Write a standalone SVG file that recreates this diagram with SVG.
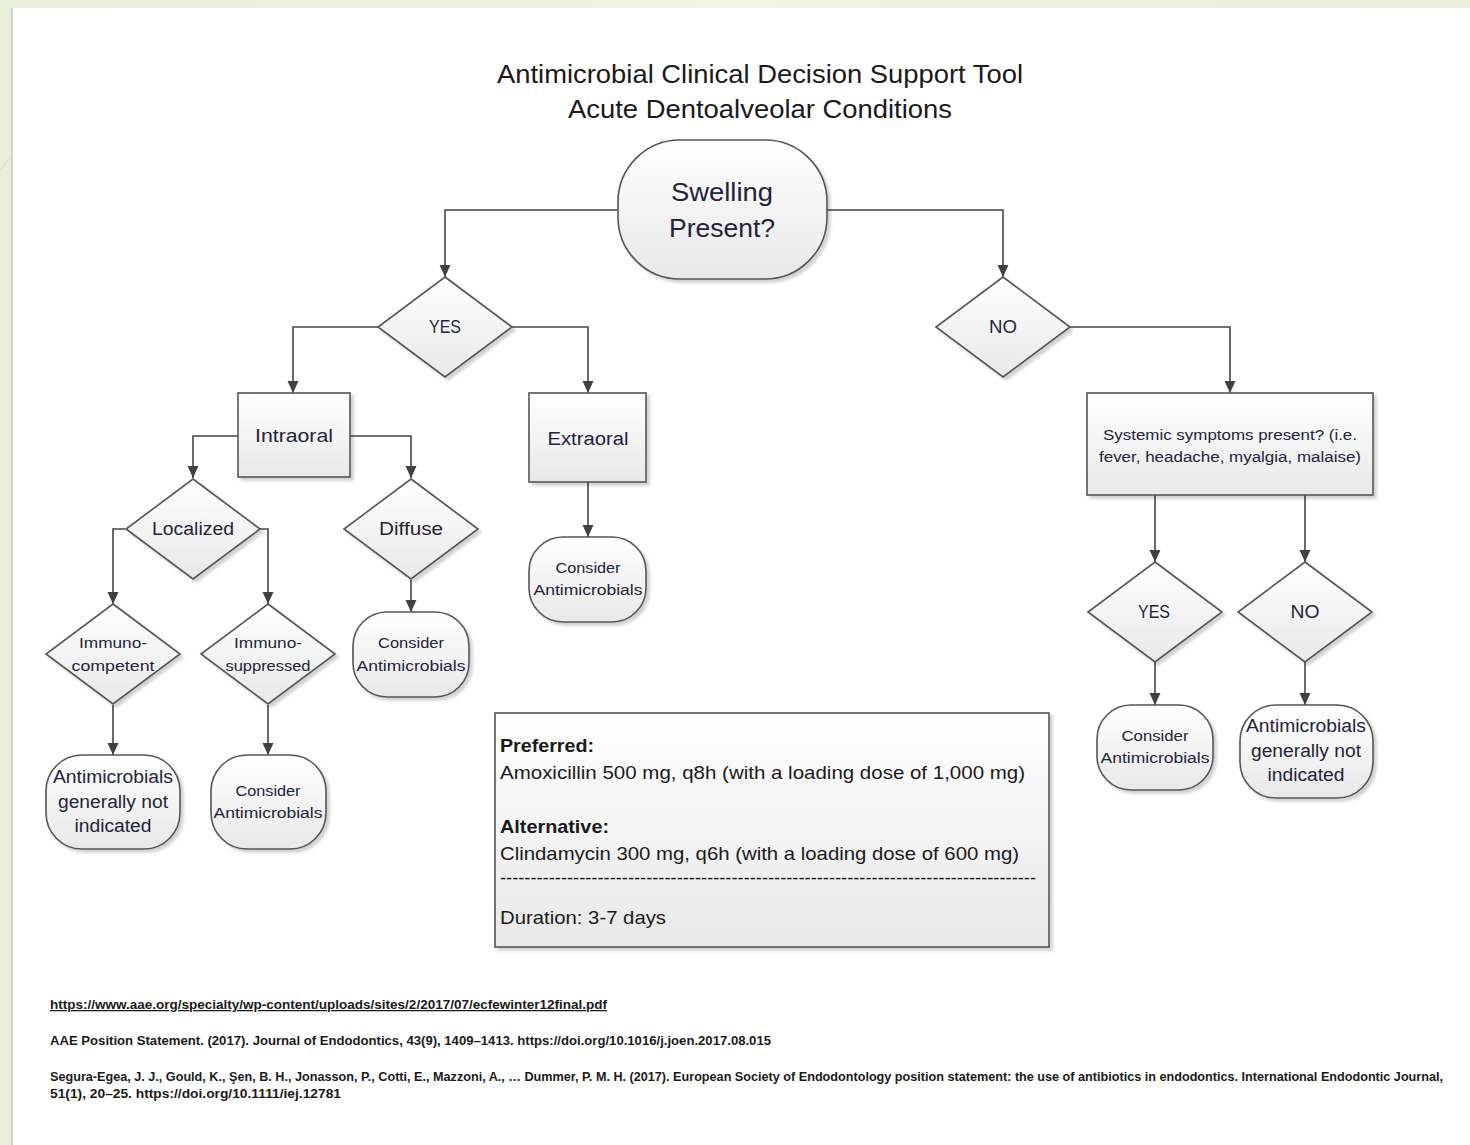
<svg xmlns="http://www.w3.org/2000/svg" width="1470" height="1145" viewBox="0 0 1470 1145">
<defs>
<linearGradient id="bgG" x1="0" y1="0" x2="1" y2="0">
<stop offset="0" stop-color="#e9eedb"/><stop offset="0.5" stop-color="#f1f4e6"/><stop offset="1" stop-color="#e9eedb"/>
</linearGradient>
<linearGradient id="fillG" x1="0" y1="0" x2="0" y2="1">
<stop offset="0" stop-color="#ffffff"/><stop offset="1" stop-color="#e8e8e8"/>
</linearGradient>
<filter id="sh" x="-10%" y="-10%" width="130%" height="130%">
<feDropShadow dx="3" dy="3" stdDeviation="1.5" flood-color="#000" flood-opacity="0.18"/>
</filter>
<marker id="arr" viewBox="0 0 12 12" refX="12" refY="6" markerWidth="12" markerHeight="12" markerUnits="userSpaceOnUse" orient="auto">
<path d="M0,0.5 L12,6 L0,11.5 z" fill="#404040"/>
</marker>
</defs>
<style>
.shape{fill:url(#fillG);stroke:#555;stroke-width:1.6;filter:url(#sh)}
.conn{fill:none;stroke:#454545;stroke-width:1.6;marker-end:url(#arr)}
text{font-family:"Liberation Sans",Arial,sans-serif;fill:#23233a}
.c{text-anchor:middle}
.ttl{font-size:26px;fill:#1a1a1a}
.big{font-size:26px}
.m{font-size:18px}
.s{font-size:15.5px}
.box{font-size:19px;fill:#1a1a1a}
.ref{font-size:12.5px;font-weight:bold;fill:#1a1a1a}
</style>
<!-- background -->
<rect x="0" y="0" width="1470" height="1145" fill="url(#bgG)"/>
<rect x="12" y="8" width="1458" height="1137" fill="#ffffff"/>
<line x1="12" y1="8" x2="12" y2="1145" stroke="#c9c9c9" stroke-width="1.5"/>
<line x1="0" y1="170" x2="11" y2="157" stroke="#d8dccb" stroke-width="1"/>

<g id="title">
<text class="ttl c" x="760" y="83" textLength="526" lengthAdjust="spacingAndGlyphs">Antimicrobial Clinical Decision Support Tool</text>
<text class="ttl c" x="760" y="118" textLength="384" lengthAdjust="spacingAndGlyphs">Acute Dentoalveolar Conditions</text>
</g>

<g id="connectors">
<path class="conn" d="M618,210 H445 V277"/>
<path class="conn" d="M827,210 H1003 V277"/>
<path class="conn" d="M378,327 H293 V393"/>
<path class="conn" d="M512,327 H588 V393"/>
<path class="conn" d="M238,436 H193 V478"/>
<path class="conn" d="M350,436 H411 V478"/>
<path class="conn" d="M125,529 H113 V604"/>
<path class="conn" d="M260,529 H268 V604"/>
<path class="conn" d="M113,705 V755"/>
<path class="conn" d="M268,705 V755"/>
<path class="conn" d="M411,580 V612"/>
<path class="conn" d="M588,482 V537"/>
<path class="conn" d="M1070,327 H1230 V393"/>
<path class="conn" d="M1155,495 V562"/>
<path class="conn" d="M1305,495 V562"/>
<path class="conn" d="M1155,662 V705"/>
<path class="conn" d="M1305,662 V705"/>
</g>

<g id="swelling">
<rect class="shape" x="618" y="140" width="209" height="139" rx="62" ry="62"/>
<text class="big c" x="722" y="201" textLength="102" lengthAdjust="spacingAndGlyphs">Swelling</text>
<text class="big c" x="722" y="237" textLength="106" lengthAdjust="spacingAndGlyphs">Present?</text>
</g>

<g id="yes1">
<path class="shape" d="M445,277 L512,327 L445,377 L378,327 Z"/>
<text class="m c" x="445" y="333" textLength="32" lengthAdjust="spacingAndGlyphs">YES</text>
</g>
<g id="no1">
<path class="shape" d="M1003,277 L1070,327 L1003,377 L936,327 Z"/>
<text class="m c" x="1003" y="333" textLength="28" lengthAdjust="spacingAndGlyphs">NO</text>
</g>

<g id="intraoral">
<rect class="shape" x="238" y="393" width="112" height="84"/>
<text class="m c" x="294" y="442" textLength="78" lengthAdjust="spacingAndGlyphs">Intraoral</text>
</g>
<g id="extraoral">
<rect class="shape" x="529" y="393" width="117" height="89"/>
<text class="m c" x="588" y="445" textLength="81" lengthAdjust="spacingAndGlyphs">Extraoral</text>
</g>

<g id="localized">
<path class="shape" d="M193,479 L260,529 L193,579 L126,529 Z"/>
<text class="m c" x="193" y="535" textLength="82" lengthAdjust="spacingAndGlyphs">Localized</text>
</g>
<g id="diffuse">
<path class="shape" d="M411,479 L478,529 L411,579 L344,529 Z"/>
<text class="m c" x="411" y="535" textLength="64" lengthAdjust="spacingAndGlyphs">Diffuse</text>
</g>

<g id="immunocompetent">
<path class="shape" d="M113,604 L180,654 L113,704 L46,654 Z"/>
<text class="s c" x="113" y="648" textLength="68" lengthAdjust="spacingAndGlyphs">Immuno-</text>
<text class="s c" x="113" y="671" textLength="83" lengthAdjust="spacingAndGlyphs">competent</text>
</g>
<g id="immunosuppressed">
<path class="shape" d="M268,604 L335,654 L268,704 L201,654 Z"/>
<text class="s c" x="268" y="648" textLength="68" lengthAdjust="spacingAndGlyphs">Immuno-</text>
<text class="s c" x="268" y="671" textLength="85" lengthAdjust="spacingAndGlyphs">suppressed</text>
</g>

<g id="notindicated1">
<rect class="shape" x="46" y="755" width="134" height="94" rx="36" ry="36"/>
<text class="m c" x="113" y="783" textLength="120" lengthAdjust="spacingAndGlyphs">Antimicrobials</text>
<text class="m c" x="113" y="808" textLength="110" lengthAdjust="spacingAndGlyphs">generally not</text>
<text class="m c" x="113" y="832" textLength="77" lengthAdjust="spacingAndGlyphs">indicated</text>
</g>
<g id="consider1">
<rect class="shape" x="211" y="755" width="115" height="94" rx="36" ry="36"/>
<text class="s c" x="268" y="796" textLength="65" lengthAdjust="spacingAndGlyphs">Consider</text>
<text class="s c" x="268" y="818" textLength="109" lengthAdjust="spacingAndGlyphs">Antimicrobials</text>
</g>
<g id="consider2">
<rect class="shape" x="353" y="612" width="116" height="85" rx="34" ry="34"/>
<text class="s c" x="411" y="648" textLength="66" lengthAdjust="spacingAndGlyphs">Consider</text>
<text class="s c" x="411" y="671" textLength="109" lengthAdjust="spacingAndGlyphs">Antimicrobials</text>
</g>
<g id="consider3">
<rect class="shape" x="529" y="537" width="117" height="85" rx="34" ry="34"/>
<text class="s c" x="588" y="573" textLength="65" lengthAdjust="spacingAndGlyphs">Consider</text>
<text class="s c" x="588" y="595" textLength="109" lengthAdjust="spacingAndGlyphs">Antimicrobials</text>
</g>

<g id="systemic">
<rect class="shape" x="1087" y="393" width="286" height="102"/>
<text class="s c" x="1230" y="440" textLength="254" lengthAdjust="spacingAndGlyphs">Systemic symptoms present? (i.e.</text>
<text class="s c" x="1230" y="462" textLength="262" lengthAdjust="spacingAndGlyphs">fever, headache, myalgia, malaise)</text>
</g>
<g id="yes2">
<path class="shape" d="M1155,562 L1222,612 L1155,662 L1088,612 Z"/>
<text class="m c" x="1154" y="618" textLength="32" lengthAdjust="spacingAndGlyphs">YES</text>
</g>
<g id="no2">
<path class="shape" d="M1305,562 L1372,612 L1305,662 L1238,612 Z"/>
<text class="m c" x="1305" y="618" textLength="29" lengthAdjust="spacingAndGlyphs">NO</text>
</g>
<g id="consider4">
<rect class="shape" x="1097" y="705" width="116" height="85" rx="34" ry="34"/>
<text class="s c" x="1155" y="741" textLength="67" lengthAdjust="spacingAndGlyphs">Consider</text>
<text class="s c" x="1155" y="763" textLength="109" lengthAdjust="spacingAndGlyphs">Antimicrobials</text>
</g>
<g id="notindicated2">
<rect class="shape" x="1240" y="705" width="133" height="93" rx="36" ry="36"/>
<text class="m c" x="1306" y="732" textLength="120" lengthAdjust="spacingAndGlyphs">Antimicrobials</text>
<text class="m c" x="1306" y="757" textLength="110" lengthAdjust="spacingAndGlyphs">generally not</text>
<text class="m c" x="1306" y="781" textLength="77" lengthAdjust="spacingAndGlyphs">indicated</text>
</g>

<g id="dosing">
<rect class="shape" x="495" y="713" width="554" height="234"/>
<text class="box" x="500" y="752" font-weight="bold" textLength="94" lengthAdjust="spacingAndGlyphs">Preferred:</text>
<text class="box" x="500" y="779" textLength="525" lengthAdjust="spacingAndGlyphs">Amoxicillin 500 mg, q8h (with a loading dose of 1,000 mg)</text>
<text class="box" x="500" y="833" font-weight="bold" textLength="109" lengthAdjust="spacingAndGlyphs">Alternative:</text>
<text class="box" x="500" y="860" textLength="519" lengthAdjust="spacingAndGlyphs">Clindamycin 300 mg, q6h (with a loading dose of 600 mg)</text>
<text class="box" x="500" y="884" textLength="536" lengthAdjust="spacingAndGlyphs">----------------------------------------------------------------------------------------</text>
<text class="box" x="500" y="924" textLength="166" lengthAdjust="spacingAndGlyphs">Duration: 3-7 days</text>
</g>

<g id="references">
<text class="ref" x="50" y="1009" text-decoration="underline" textLength="557" lengthAdjust="spacingAndGlyphs">https://www.aae.org/specialty/wp-content/uploads/sites/2/2017/07/ecfewinter12final.pdf</text>
<text class="ref" x="50" y="1045" textLength="721" lengthAdjust="spacingAndGlyphs">AAE Position Statement. (2017). Journal of Endodontics, 43(9), 1409–1413. https://doi.org/10.1016/j.joen.2017.08.015</text>
<text class="ref" x="50" y="1081" textLength="1393" lengthAdjust="spacingAndGlyphs">Segura-Egea, J. J., Gould, K., Şen, B. H., Jonasson, P., Cotti, E., Mazzoni, A., … Dummer, P. M. H. (2017). European Society of Endodontology position statement: the use of antibiotics in endodontics. International Endodontic Journal,</text>
<text class="ref" x="50" y="1098" textLength="291" lengthAdjust="spacingAndGlyphs">51(1), 20–25. https://doi.org/10.1111/iej.12781</text>
</g>
</svg>
